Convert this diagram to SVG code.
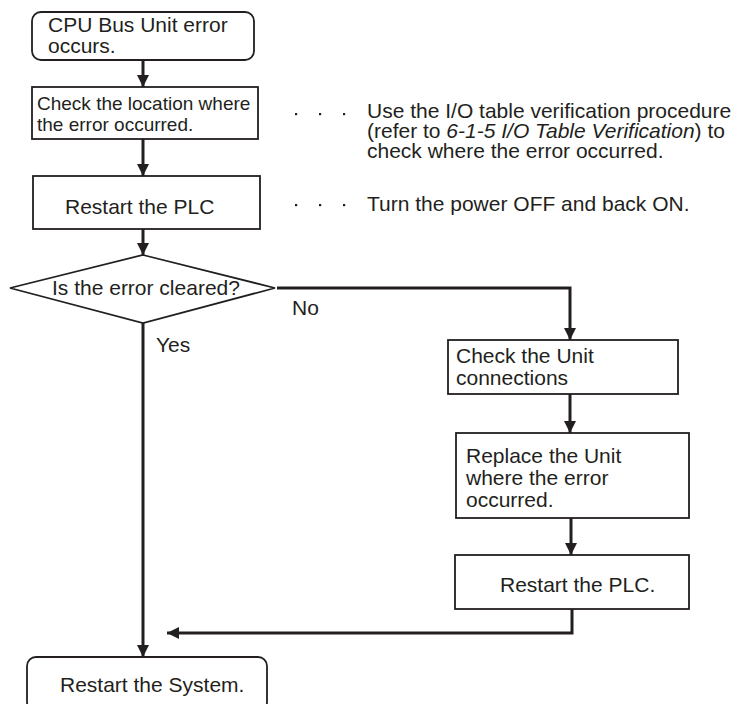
<svg xmlns="http://www.w3.org/2000/svg" width="738" height="704" viewBox="0 0 738 704">
<defs>
<style>
.box{fill:#fff;stroke:#231f20;stroke-width:1.8}
.t{font-family:"Liberation Sans",Arial,sans-serif;font-size:21px;fill:#231f20}
.ts{font-family:"Liberation Sans",Arial,sans-serif;font-size:19px;fill:#231f20}
.c{fill:none;stroke:#231f20;stroke-width:3}
.dot{fill:#231f20}
</style>
<marker id="ah" viewBox="0 0 10 10" refX="10" refY="5" markerWidth="4" markerHeight="4" orient="auto" markerUnits="strokeWidth">
<path d="M0,0 L10,5 L0,10 Z" fill="#231f20"/>
</marker>
</defs>
<rect width="738" height="704" fill="#fff"/>
<g id="connectors">
<path class="c" d="M143,60 V87" marker-end="url(#ah)"/>
<path class="c" d="M143,139 V176" marker-end="url(#ah)"/>
<path class="c" d="M143,229 V255" marker-end="url(#ah)"/>
<path class="c" d="M277,288 H570 V340" marker-end="url(#ah)"/>
<path class="c" d="M570,394 V433" marker-end="url(#ah)"/>
<path class="c" d="M571,518 V555" marker-end="url(#ah)"/>
<path class="c" d="M572,609 V633 H167" marker-end="url(#ah)"/>
<path class="c" d="M143,323 V657" marker-end="url(#ah)"/>
</g>
<g id="n1">
<rect class="box" x="32" y="12" width="222" height="48" rx="9"/>
<text class="t" x="48" y="32">CPU Bus Unit error</text>
<text class="t" x="48" y="53">occurs.</text>
</g>
<g id="n2">
<rect class="box" x="32" y="87" width="226" height="52"/>
<text class="ts" x="37" y="110">Check the location where</text>
<text class="ts" x="37" y="131">the error occurred.</text>
</g>
<g id="n3">
<rect class="box" x="33" y="176" width="227" height="53"/>
<text class="t" x="65" y="214">Restart the PLC</text>
</g>
<g id="n4">
<polygon class="box" points="143,255 275,288 143,323 10,288"/>
<text class="t" x="52" y="295">Is the error cleared?</text>
</g>
<g id="labels">
<text class="t" x="292" y="315">No</text>
<text class="t" x="156" y="352">Yes</text>
</g>
<g id="n5">
<rect class="box" x="448" y="340" width="230" height="54"/>
<text class="t" x="456" y="363">Check the Unit</text>
<text class="t" x="456" y="385">connections</text>
</g>
<g id="n6">
<rect class="box" x="456" y="433" width="233" height="85"/>
<text class="t" x="466" y="463">Replace the Unit</text>
<text class="t" x="466" y="485">where the error</text>
<text class="t" x="466" y="507">occurred.</text>
</g>
<g id="n7">
<rect class="box" x="455" y="555" width="234" height="54"/>
<text class="t" x="500" y="592">Restart the PLC.</text>
</g>
<g id="n8">
<rect class="box" x="27" y="657" width="240" height="54" rx="9"/>
<text class="t" x="60" y="692">Restart the System.</text>
</g>
<g id="note1">
<rect class="dot" x="295" y="113" width="2.2" height="2.2"/>
<rect class="dot" x="319" y="113" width="2.2" height="2.2"/>
<rect class="dot" x="343" y="113" width="2.2" height="2.2"/>
<text class="t" x="367" y="118">Use the I/O table verification procedure</text>
<text class="t" x="367" y="138">(refer to <tspan font-style="italic">6-1-5 I/O Table Verification</tspan>) to</text>
<text class="t" x="367" y="158">check where the error occurred.</text>
</g>
<g id="note2">
<rect class="dot" x="295" y="204" width="2.2" height="2.2"/>
<rect class="dot" x="319" y="204" width="2.2" height="2.2"/>
<rect class="dot" x="343" y="204" width="2.2" height="2.2"/>
<text class="t" x="367" y="211">Turn the power OFF and back ON.</text>
</g>
</svg>
